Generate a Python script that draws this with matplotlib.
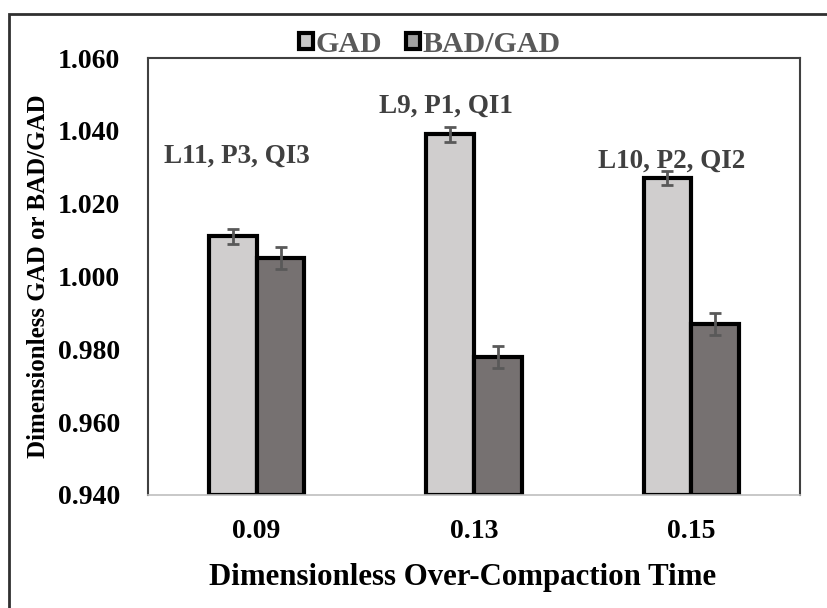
import matplotlib.pyplot as plt
import numpy as np
from matplotlib.patches import Rectangle

# data
categories = ['0.09', '0.13', '0.15']
gad = [1.011, 1.039, 1.027]
gad_err = [0.002, 0.002, 0.002]
bad_gad = [1.005, 0.978, 0.987]
bad_gad_err = [0.003, 0.003, 0.003]
labels = ['L11, P3, QI3', 'L9, P1, QI1', 'L10, P2, QI2']
label_x = [-0.09, -0.13, -0.09]
label_y = [1.033, 1.0468, 1.0318]
yticks = [0.940, 0.960, 0.980, 1.000, 1.020, 1.040, 1.060]

plt.rcParams['font.family'] = ['Liberation Serif', 'DejaVu Serif']
plt.rcParams['font.weight'] = 'bold'

fig = plt.figure(figsize=(8.27, 6.08), dpi=100)
ax = fig.add_axes([148 / 827, 1 - 495 / 608, (800 - 148) / 827, (495 - 58) / 608])

x = np.arange(len(categories))
w = 0.22
ax.bar(x - w / 2, [v - 0.94 for v in gad], w, bottom=0.94, color='#d0cece',
       edgecolor='black', linewidth=3, label='GAD', zorder=2)
ax.bar(x + w / 2, [v - 0.94 for v in bad_gad], w, bottom=0.94, color='#767171',
       edgecolor='black', linewidth=3, label='BAD/GAD', zorder=2)
ax.errorbar(x - w / 2, gad, yerr=gad_err, fmt='none', ecolor='#595959',
            elinewidth=2, capsize=4, capthick=2, zorder=3)
ax.errorbar(x + w / 2, bad_gad, yerr=bad_gad_err, fmt='none', ecolor='#595959',
            elinewidth=2, capsize=4, capthick=2, zorder=3)

for xi, dx, lab, ly in zip(x, label_x, labels, label_y):
    ax.text(xi + dx, ly, lab, ha='center', va='center', fontsize=19.5,
            fontweight='bold', color='#404040')

ax.set_xlim(-0.5, 2.5)
ax.set_ylim(0.94, 1.06)
ax.set_yticks(yticks)
ax.set_yticklabels(['%.3f' % t for t in yticks])
ax.set_xticks(x)
ax.set_xticklabels(categories)
ax.tick_params(axis='y', length=0, labelsize=20, pad=20)
ax.tick_params(axis='x', length=0, labelsize=20, pad=17)
for lbl in ax.get_xticklabels() + ax.get_yticklabels():
    lbl.set_fontweight('bold')
for s in ['top', 'right', 'left']:
    ax.spines[s].set_color('#404040')
    ax.spines[s].set_linewidth(1.5)
ax.spines['bottom'].set_color('#bfbfbf')
ax.spines['bottom'].set_linewidth(1.2)

ax.set_xlabel('Dimensionless Over-Compaction Time', fontsize=22.2,
              fontweight='bold', labelpad=20)
ax.xaxis.set_label_coords((463 - 148) / 652, -0.155)
ax.set_ylabel('Dimensionless GAD or BAD/GAD', fontsize=18,
              fontweight='bold', labelpad=6)

leg = fig.legend(loc='center', bbox_to_anchor=(430 / 827, 1 - 44 / 608), ncol=2,
                 frameon=False, fontsize=21.5, handlelength=0.45, handleheight=0.45,
                 handletextpad=0.1, columnspacing=0.8)
for t in leg.get_texts():
    t.set_color('#595959')
    t.set_fontweight('bold')
for h, fc in zip(leg.legend_handles, ['#c8c8c8', '#a0a0a0']):
    h.set_linewidth(3)
    h.set_facecolor(fc)

# outer frame
fig.patches.append(Rectangle((9 / 827, -0.1), 1.2, 1 - 14 / 608 + 0.1,
                             transform=fig.transFigure, fill=False,
                             edgecolor='#303030', linewidth=2))

fig.savefig('out.png', dpi=100)
